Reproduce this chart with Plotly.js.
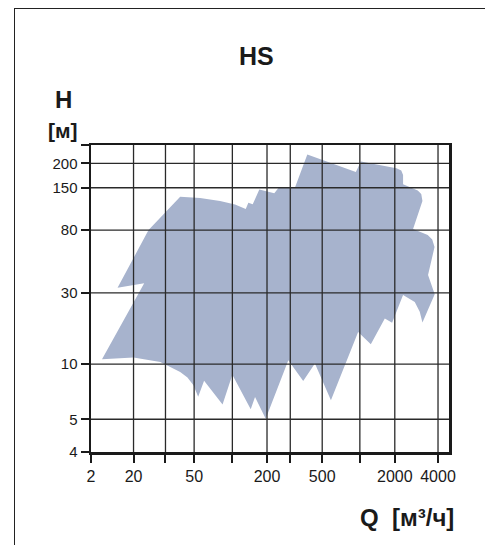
<!DOCTYPE html>
<html>
<head>
<meta charset="utf-8">
<script src="https://cdn.plot.ly/plotly-3.0.1.min.js"></script>
<style>
  html, body { margin: 0; padding: 0; background: #fff; overflow: hidden; }
  #wrap { position: relative; width: 485px; height: 545px; }
  #frame { position: absolute; left: 14px; top: 8px; width: 700px; height: 700px;
           border-left: 1.5px solid #222; border-top: 1.5px solid #222; pointer-events: none; }
  #chart { position: absolute; left: 0; top: 0; width: 485px; height: 545px; }
</style>
</head>
<body>
<div id="wrap">
  <div id="chart"></div>
  <div id="frame"></div>
</div>
<script>
// ---- data ----
const qTicks    = [2, 20, 30, 50, 100, 200, 300, 500, 1000, 2000, 4000];
const qTickText = ['2', '20', '', '50', '', '200', '', '500', '', '2000', '4000'];
const hTicks    = [4, 5, 10, 30, 80, 150, 200];
const hTickText = ['4', '5', '10', '30', '80', '150', '200'];

// HS operating envelope: flow Q [m3/h] and head H [m]
const envQ = [8.42, 24.2, 39.0, 55.7, 80.0, 105.5, 130.7, 137.7, 150.3, 171.5, 227, 244, 323, 394,
  929, 1020, 2055, 2219, 2284, 2284, 2889, 3057, 3116, 2681, 3392, 3646, 3782, 3409, 3794,
  3116, 2984, 2755, 2284, 1896, 1641, 1243, 969, 587, 445, 369, 290, 194.9, 157.4, 144.4,
  100, 83.7, 59.9, 53.8, 49.4, 44.4, 39.0, 28.1, 20, 3.63, 22.9];
const envH = [32.5, 80, 131.2, 128.7, 123.1, 116.8, 109.3, 120.0, 117.2, 146.0, 138.0, 149.3, 150.2, 221.9,
  180.5, 204.3, 188.5, 183.7, 174.2, 156.1, 143.9, 136.6, 123.1, 81.4, 74.0, 69.0, 61.3, 39.6, 29.4,
  19.0, 22.4, 26.1, 29.0, 18.9, 20.2, 13.6, 16.4, 6.35, 10.1, 8.1, 10.64, 5.04, 6.62, 5.67,
  8.76, 6.02, 8.12, 6.64, 7.68, 8.46, 9.08, 10.36, 11.09, 10.8, 34.8];

// ---- axis scale (the printed grid is hand-spaced, so each decade piece has its own length) ----
const qGridPos = [0, 42.6, 74.6, 103.3, 141.6, 176.3, 199.6, 231.6, 269.3, 304.3, 347.6];
const qRangeEnd = 358.6;
const hGridPos = [0, 32.7, 87.7, 159, 221.7, 264, 288.4];
const hRangeEnd = 306.7;

function makeScale(vals, pos) {
  return function (v) {
    let i = 0;
    while (i < vals.length - 2 && v > vals[i + 1]) i++;
    const t = Math.log(v / vals[i]) / Math.log(vals[i + 1] / vals[i]);
    return pos[i] + t * (pos[i + 1] - pos[i]);
  };
}
const sx = makeScale(qTicks, qGridPos);
const sy = makeScale(hTicks, hGridPos);

const FONT = '"Liberation Sans", Arial, Helvetica, sans-serif';
const M = { l: 91, r: 36, t: 145, b: 93 };
const PW = 485 - M.l - M.r, PH = 545 - M.t - M.b;
const px = x => (x - M.l) / PW;
const py = y => (545 - M.b - y) / PH;

const trace = {
  type: 'scatter', mode: 'lines', fill: 'toself',
  x: envQ.map(sx), y: envH.map(sy),
  fillcolor: '#a7b3cd', line: { width: 0, color: '#a7b3cd' },
  hoverinfo: 'skip', showlegend: false
};

const shapes = [];
qTicks.slice(1).forEach(q => shapes.push({
  type: 'line', layer: 'above', xref: 'x', yref: 'paper',
  x0: sx(q), x1: sx(q), y0: 0, y1: 1, line: { color: '#2a2a2a', width: 1.3 }
}));
hTicks.slice(1).forEach(h => shapes.push({
  type: 'line', layer: 'above', xref: 'paper', yref: 'y',
  x0: 0, x1: 1, y0: sy(h), y1: sy(h), line: { color: '#2a2a2a', width: 1.3 }
}));

const layout = {
  width: 485, height: 545, margin: M,
  paper_bgcolor: '#fff', plot_bgcolor: '#fff',
  font: { family: FONT, color: '#1a1a1a', size: 15 },
  showlegend: false,
  xaxis: {
    type: 'linear', range: [0, qRangeEnd], fixedrange: true,
    tickmode: 'array', tickvals: qTicks.map(sx), ticktext: qTickText,
    ticks: 'outside', ticklen: 8, tickwidth: 2, tickcolor: '#1a1a1a',
    showline: true, linewidth: 2.5, linecolor: '#1a1a1a', mirror: true,
    showgrid: false, zeroline: false,
    tickfont: { size: 16, family: FONT, color: '#1a1a1a' }
  },
  yaxis: {
    type: 'linear', range: [0, hRangeEnd], fixedrange: true,
    tickmode: 'array', tickvals: hTicks.map(sy).concat([hRangeEnd]), ticktext: hTickText.concat(['']),
    ticks: 'outside', ticklen: 8, tickwidth: 2, tickcolor: '#1a1a1a',
    showline: true, linewidth: 2.5, linecolor: '#1a1a1a', mirror: true,
    showgrid: false, zeroline: false,
    tickfont: { size: 15, family: FONT, color: '#1a1a1a' }
  },
  shapes: shapes,
  annotations: [
    { text: '<b>HS</b>', xref: 'paper', yref: 'paper', x: px(256), y: py(55.5),
      xanchor: 'center', yanchor: 'middle', showarrow: false, font: { size: 25, family: FONT, color: '#1a1a1a' } },
    { text: '<b>H</b>', xref: 'paper', yref: 'paper', x: px(63.5), y: py(100),
      xanchor: 'center', yanchor: 'middle', showarrow: false, font: { size: 24, family: FONT, color: '#1a1a1a' } },
    { text: '<b>[м]</b>', xref: 'paper', yref: 'paper', x: px(62.5), y: py(130),
      xanchor: 'center', yanchor: 'middle', showarrow: false, font: { size: 21, family: FONT, color: '#1a1a1a' } },
    { text: '<b>Q  [м³/ч]</b>', xref: 'paper', yref: 'paper', x: px(406.7), y: py(517),
      xanchor: 'center', yanchor: 'middle', showarrow: false, font: { size: 24, family: FONT, color: '#1a1a1a' } }
  ]
};

Plotly.newPlot('chart', [trace], layout, { displayModeBar: false, staticPlot: true });
</script>
</body>
</html>
